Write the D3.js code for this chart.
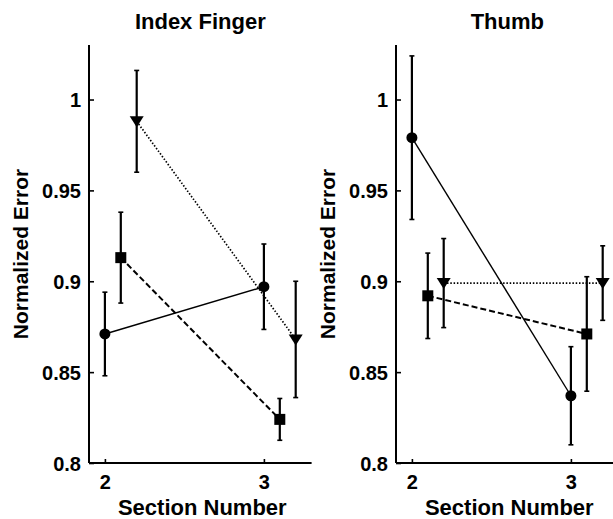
<!DOCTYPE html>
<html>
<head>
<meta charset="utf-8">
<script src="https://cdn.jsdelivr.net/npm/d3@7/dist/d3.min.js"></script>
<style>
  html, body { margin: 0; padding: 0; background: #fff; }
  svg text { font-family: "Liberation Sans", Arial, sans-serif; font-weight: bold; fill: #000; }
</style>
</head>
<body>
<svg id="chart" width="613" height="519"></svg>
<script>
// ---- data ----
const sections = [2, 3];
const xTicks = [2, 3];
const yTicks = [0.8, 0.85, 0.9, 0.95, 1];
const yTickLabels = ["0.8", "0.85", "0.9", "0.95", "1"];
const panelTitles = ["Index Finger", "Thumb"];
const seriesNames = ["circle", "square", "triangle"];
const seriesOffsets = [0, 0.1, 0.2];

const indexCircle = [0.871, 0.897];
const indexCircleErr = [0.023, 0.0235];
const indexSquare = [0.913, 0.824];
const indexSquareErr = [0.025, 0.0115];
const indexTriangle = [0.988, 0.868];
const indexTriangleErr = [0.028, 0.032];

const thumbCircle = [0.979, 0.837];
const thumbCircleErr = [0.045, 0.027];
const thumbSquare = [0.892, 0.871];
const thumbSquareErr = [0.0235, 0.0315];
const thumbTriangle = [0.899, 0.899];
const thumbTriangleErr = [0.0245, 0.0205];

// ---- drawing ----
const svg = d3.select("#chart");
const lineStyles = {
  circle: { dash: null, width: 1.4 },
  square: { dash: "6,3", width: 2 },
  triangle: { dash: "1.5,1.8", width: 1.7 }
};

const panels = [
  { left: 89, title: panelTitles[0],
    series: [[indexCircle, indexCircleErr], [indexSquare, indexSquareErr], [indexTriangle, indexTriangleErr]] },
  { left: 396, title: panelTitles[1],
    series: [[thumbCircle, thumbCircleErr], [thumbSquare, thumbSquareErr], [thumbTriangle, thumbTriangleErr]] }
];

const plotTop = 45, plotBottom = 463, plotW = 222.6;

panels.forEach(p => {
  const x = d3.scaleLinear().domain([1.9, 3.3]).range([p.left, p.left + plotW]);
  const y = d3.scaleLinear().domain([0.8, 1.03]).range([plotBottom, plotTop]);
  const g = svg.append("g");

  // axes
  const yAxis = d3.axisLeft(y).tickValues(yTicks).tickSize(-5).tickPadding(8)
    .tickFormat((d, i) => yTickLabels[i]);
  const ga = g.append("g").attr("transform", `translate(${p.left},0)`).call(yAxis);
  const xAxis = d3.axisBottom(x).tickValues(xTicks).tickSize(-4).tickPadding(12)
    .tickFormat(d3.format("d"));
  const gb = g.append("g").attr("transform", `translate(0,${plotBottom})`).call(xAxis);
  [ga, gb].forEach(a => {
    a.select(".domain").attr("stroke", "#000").attr("stroke-width", 2);
    a.selectAll(".tick line").attr("stroke", "#000").attr("stroke-width", 1.6);
    a.selectAll(".tick text").style("font-size", "20px");
  });
  ga.select(".domain").attr("d", `M0,${plotBottom}V${plotTop}`);
  gb.select(".domain").attr("d", `M${p.left},0H${p.left + plotW}`);
  ga.selectAll(".tick text").attr("dy", "0.36em");

  // title & labels
  g.append("text").attr("x", p.left + plotW / 2).attr("y", 29)
    .attr("text-anchor", "middle").style("font-size", "22px").text(p.title);
  g.append("text").attr("x", p.left + plotW / 2 + 2).attr("y", 515)
    .attr("text-anchor", "middle").style("font-size", "22px").text("Section Number");
  g.append("text")
    .attr("transform", `translate(${p.left - 61},${(plotTop + plotBottom) / 2}) rotate(-90)`)
    .attr("text-anchor", "middle").style("font-size", "21px").text("Normalized Error");

  p.series.forEach(([vals, errs], si) => {
    const name = seriesNames[si];
    const off = seriesOffsets[si];
    const pts = sections.map((s, i) => ({ x: s + off, y: vals[i], e: errs[i] }));
    const st = lineStyles[name];
    // connecting line
    g.append("path").datum(pts)
      .attr("d", d3.line().x(d => x(d.x)).y(d => y(d.y)))
      .attr("fill", "none").attr("stroke", "#000")
      .attr("stroke-width", st.width)
      .attr("stroke-dasharray", st.dash);
    // error bars
    pts.forEach(d => {
      const cx = x(d.x);
      g.append("line").attr("x1", cx).attr("x2", cx)
        .attr("y1", y(d.y - d.e)).attr("y2", y(d.y + d.e))
        .attr("stroke", "#000").attr("stroke-width", 2.2);
      [d.y - d.e, d.y + d.e].forEach(v => {
        g.append("line").attr("x1", cx - 2.5).attr("x2", cx + 2.5)
          .attr("y1", y(v)).attr("y2", y(v))
          .attr("stroke", "#000").attr("stroke-width", 1.6);
      });
    });
    // markers
    pts.forEach(d => {
      const cx = x(d.x), cy = y(d.y);
      if (name === "circle") {
        g.append("circle").attr("cx", cx).attr("cy", cy).attr("r", 5.5).attr("fill", "#000");
      } else if (name === "square") {
        g.append("rect").attr("x", cx - 5.5).attr("y", cy - 5.5)
          .attr("width", 11).attr("height", 11).attr("fill", "#000");
      } else {
        g.append("path")
          .attr("d", `M${cx - 7},${cy - 5}L${cx + 7},${cy - 5}L${cx},${cy + 6}Z`)
          .attr("fill", "#000");
      }
    });
  });
});
</script>
</body>
</html>
